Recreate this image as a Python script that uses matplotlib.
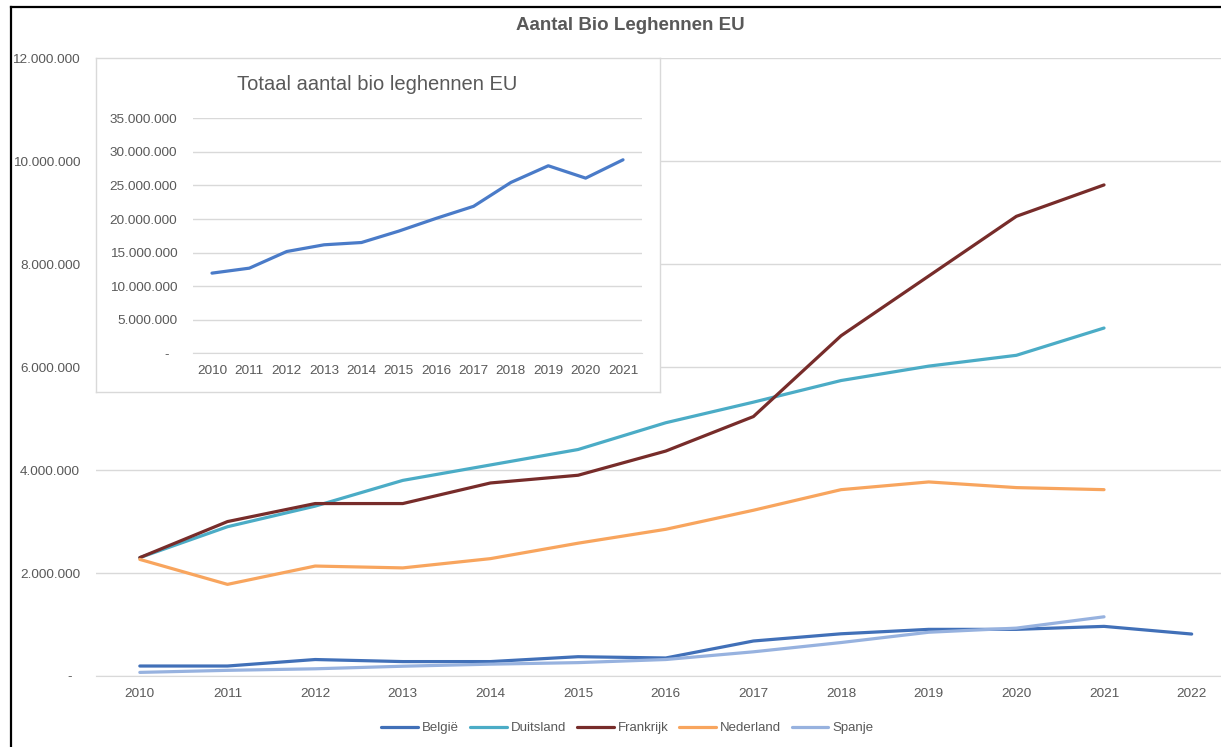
import matplotlib
matplotlib.use("Agg")
import matplotlib.pyplot as plt
from matplotlib.lines import Line2D
from matplotlib.transforms import ScaledTranslation

# ---------------- data ----------------
years = ["2010", "2011", "2012", "2013", "2014", "2015", "2016",
         "2017", "2018", "2019", "2020", "2021", "2022"]

belgie = [194000, 194000, 320000, 280000, 280000, 375000, 350000,
          680000, 820000, 906000, 906000, 964000, 815000]
duitsland = [2300000, 2900000, 3300000, 3800000, 4100000, 4400000, 4920000,
             5320000, 5740000, 6020000, 6230000, 6760000]
frankrijk = [2300000, 3000000, 3350000, 3350000, 3750000, 3900000, 4370000,
             5040000, 6610000, 7770000, 8930000, 9540000]
nederland = [2265000, 1780000, 2136000, 2100000, 2280000, 2580000, 2850000,
             3220000, 3620000, 3770000, 3660000, 3620000]
spanje = [70000, 110000, 140000, 190000, 230000, 260000, 320000,
          470000, 650000, 850000, 930000, 1150000]

series_names = ["België", "Duitsland", "Frankrijk", "Nederland", "Spanje"]
series_values = [belgie, duitsland, frankrijk, nederland, spanje]
series_colors = ["#4170B8", "#4BACC6", "#772C2A", "#F8A55E", "#97B2DF"]

main_yticks = [0, 2000000, 4000000, 6000000, 8000000, 10000000, 12000000]

inset_years = ["2010", "2011", "2012", "2013", "2014", "2015",
               "2016", "2017", "2018", "2019", "2020", "2021"]
inset_total = [11940000, 12680000, 15160000, 16160000, 16500000, 18200000,
               20100000, 21890000, 25450000, 27930000, 26090000, 28820000]
inset_yticks = [0, 5000000, 10000000, 15000000, 20000000, 25000000,
                30000000, 35000000]

main_title = "Aantal Bio Leghennen EU"
inset_title = "Totaal aantal bio leghennen EU"


def fmt(v):
    return "-" if v == 0 else f"{int(v):,}".replace(",", ".")


# ---------------- figure ----------------
W, H = 1221, 747
fig = plt.figure(figsize=(W / 100, H / 100), dpi=100)
fig.patch.set_facecolor("white")
FONT = "Liberation Sans"
TXT = "#595959"
GRID = "#D9D9D9"
LW = 2.3


def px_rect(x0, y0, x1, y1):
    return [x0 / W, 1 - y1 / H, (x1 - x0) / W, (y1 - y0) / H]


def style_axes(a):
    a.grid(axis="y", color=GRID, lw=1.0)
    a.set_axisbelow(True)
    for s in ["top", "right", "left"]:
        a.spines[s].set_visible(False)
    a.spines["bottom"].set_color(GRID)
    a.tick_params(axis="both", length=0, colors=TXT, labelsize=9.7)
    a.tick_params(axis="y", pad=11.5)
    a.tick_params(axis="x", pad=8.6)
    for lbl in a.get_xticklabels() + a.get_yticklabels():
        lbl.set_fontfamily(FONT)
    z = a.get_yticklabels()[0]
    z.set_transform(z.get_transform() +
                    ScaledTranslation(-0.08, 0, fig.dpi_scale_trans))


# main axes
ax = fig.add_axes(px_rect(96, 58.3, 1235.5, 676))
x = list(range(len(years)))
for name, vals, col in zip(series_names, series_values, series_colors):
    ax.plot(x[:len(vals)], vals, color=col, lw=LW, label=name,
            solid_capstyle="round", solid_joinstyle="round", zorder=3)
ax.set_xlim(-0.5, len(years) - 0.5)
ax.set_ylim(0, 12000000)
ax.set_xticks(x)
ax.set_xticklabels(years)
ax.set_yticks(main_yticks)
ax.set_yticklabels([fmt(v) for v in main_yticks])
style_axes(ax)

fig.text(630 / W, 1 - 25 / H, main_title, ha="center", va="center",
         fontsize=13.5, fontweight="bold", color=TXT, family=FONT)

leg = ax.legend(loc="center", bbox_to_anchor=(627.5 / W, 1 - 728 / H),
                bbox_transform=fig.transFigure, ncol=5, frameon=False,
                prop={"family": FONT, "size": 9.5}, handlelength=2.8,
                handletextpad=0.3, columnspacing=0.8)
for t in leg.get_texts():
    t.set_color(TXT)

# inset background box
axbg = fig.add_axes(px_rect(96, 58.3, 660, 391.7))
axbg.set_facecolor("white")
axbg.set_xticks([])
axbg.set_yticks([])
for s in axbg.spines.values():
    s.set_color(GRID)
    s.set_linewidth(1.0)

# inset axes
ins = fig.add_axes(px_rect(193.3, 118.3, 641.7, 353.3))
ins.patch.set_alpha(0)
xi = list(range(len(inset_years)))
ins.plot(xi, inset_total, color="#4A7BC8", lw=LW,
         solid_capstyle="round", solid_joinstyle="round")
ins.set_xlim(-0.5, len(inset_years) - 0.5)
ins.set_ylim(0, 35000000)
ins.set_xticks(xi)
ins.set_xticklabels(inset_years)
ins.set_yticks(inset_yticks)
ins.set_yticklabels([fmt(v) for v in inset_yticks])
style_axes(ins)
fig.text(377 / W, 1 - 84 / H, inset_title, ha="center", va="center",
         fontsize=14.5, color=TXT, family=FONT)

# document frame lines (black border of the screenshot)
fig.add_artist(Line2D([11 / W, 11 / W], [0, 1 - 6.5 / H], color="black",
                      lw=1.6, transform=fig.transFigure))
fig.add_artist(Line2D([11 / W, 1], [1 - 6.5 / H, 1 - 6.5 / H], color="black",
                      lw=1.6, transform=fig.transFigure))

fig.savefig("out.png", dpi=100, facecolor="white")
